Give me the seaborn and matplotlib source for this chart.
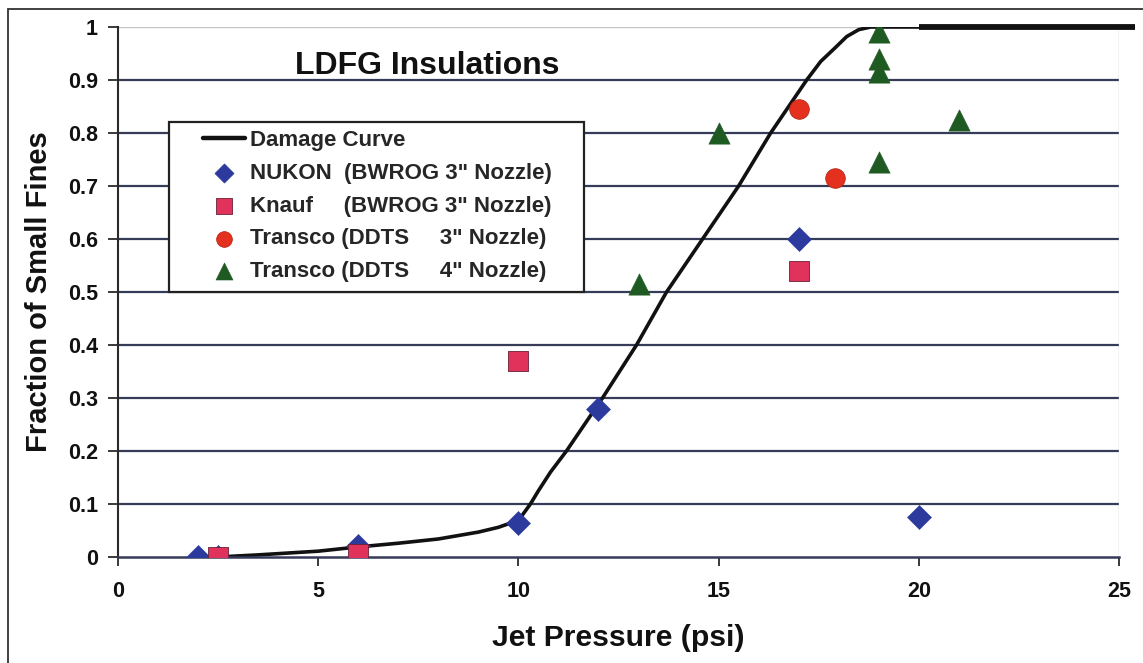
import numpy as np
import pandas as pd
import matplotlib.pyplot as plt
import seaborn as sns
from matplotlib.patches import Rectangle
from matplotlib.lines import Line2D

# ---------------------------------------------------------
# Data
# ---------------------------------------------------------
curve_x = [2.5, 3.5, 5, 6, 7, 8, 9, 9.5, 9.8, 10.05, 10.3, 10.5, 10.8, 11.2,
           12.1, 12.95, 13.7, 14.6, 15.5, 16.3, 17.2, 17.55, 17.9, 18.2, 18.5,
           18.8, 20]
curve_y = [0.0, 0.004, 0.011, 0.019, 0.026, 0.034, 0.047, 0.056, 0.064, 0.074,
           0.1, 0.125, 0.16, 0.2, 0.3, 0.4, 0.5, 0.6, 0.7, 0.8, 0.9, 0.935,
           0.96, 0.982, 0.995, 1.0, 1.0]
flat_x = [20, 25.4]
flat_y = [1.0, 1.0]

nukon_x = [2, 2.5, 6, 10, 12, 17, 20]
nukon_y = [0.0, 0.0, 0.02, 0.065, 0.28, 0.60, 0.075]
knauf_x = [2.5, 6, 10, 17]
knauf_y = [0.0, 0.005, 0.37, 0.54]
transco3_x = [17, 17.9]
transco3_y = [0.845, 0.715]
transco4_x = [13, 15, 19, 19, 19, 19, 21]
transco4_y = [0.515, 0.80, 0.99, 0.94, 0.915, 0.745, 0.825]

legend_labels = ['Damage Curve',
                 'NUKON  (BWROG 3" Nozzle)',
                 'Knauf     (BWROG 3" Nozzle)',
                 'Transco (DDTS     3" Nozzle)',
                 'Transco (DDTS     4" Nozzle)']

x_ticks = [0, 5, 10, 15, 20, 25]
y_ticks = [0, 0.1, 0.2, 0.3, 0.4, 0.5, 0.6, 0.7, 0.8, 0.9, 1.0]
y_tick_labels = ['0', '0.1', '0.2', '0.3', '0.4', '0.5', '0.6', '0.7', '0.8', '0.9', '1']

# ---------------------------------------------------------
# Style
# ---------------------------------------------------------
sns.set_theme(style='white')
plt.rcParams['font.family'] = ['Liberation Sans', 'DejaVu Sans']
plt.rcParams['font.weight'] = 'bold'

grid_col = '#363b58'
blue = '#2b3a9c'
pink = '#e0325a'
red = '#e4301e'
green = '#1f5a22'

fig = plt.figure(figsize=(11.43, 6.63), dpi=100)
ax = fig.add_axes([118 / 1143, 1 - 557 / 663, 1001 / 1143, 530 / 663])

# horizontal grid lines (dark), top one light
for yv in y_ticks[1:-1]:
    ax.axhline(yv, color=grid_col, lw=1.6, zorder=1)
ax.axhline(y_ticks[-1], color='#c4c4c4', lw=1.0, zorder=1)

# damage curve
sns.lineplot(x=curve_x, y=curve_y, ax=ax, color='#111111', lw=2.6,
             sort=False, estimator=None, zorder=2)
ax.plot(flat_x, flat_y, color='#111111', lw=4.2, clip_on=False, zorder=2,
        solid_capstyle='butt')

# measured points
sns.scatterplot(x=nukon_x, y=nukon_y, ax=ax, marker='D', s=150, color=blue,
                edgecolor=blue, linewidth=0.4, zorder=3)
sns.scatterplot(x=knauf_x, y=knauf_y, ax=ax, marker='s', s=195, color=pink,
                edgecolor='#6a2035', linewidth=0.6, zorder=3)
sns.scatterplot(x=transco3_x, y=transco3_y, ax=ax, marker='o', s=200, color=red,
                edgecolor='#b02010', linewidth=0.5, zorder=3)
sns.scatterplot(x=transco4_x, y=transco4_y, ax=ax, marker='^', s=235, color=green,
                edgecolor=green, linewidth=0.4, zorder=3)

ax.set_xlim(0, 25)
ax.set_ylim(0, 1)
ax.set_xticks(x_ticks)
ax.set_yticks(y_ticks)
ax.set_yticklabels(y_tick_labels)

for side in ['top', 'right']:
    ax.spines[side].set_visible(False)
ax.spines['left'].set_color('#2a2a2a')
ax.spines['left'].set_linewidth(1.5)
ax.spines['bottom'].set_color(grid_col)
ax.spines['bottom'].set_linewidth(1.8)
ax.axvline(25, color='#c4c4c4', lw=1.0, zorder=1)

ax.tick_params(axis='y', direction='out', length=7.5, width=1.3, color='#2a2a2a',
               pad=7, labelsize=15.5, left=True)
ax.tick_params(axis='x', direction='out', length=6.5, width=1.3, color='#2a2a2a',
               pad=11, labelsize=15.5, bottom=True)
for lbl in ax.get_xticklabels() + ax.get_yticklabels():
    lbl.set_fontweight('bold')
    lbl.set_color('#111111')

ax.set_xlabel('Jet Pressure (psi)', fontsize=21.7, fontweight='bold', color='#111111')
ax.set_ylabel('Fraction of Small Fines', fontsize=21, fontweight='bold', color='#111111')
ax.xaxis.set_label_coords(0.5, (557 - 624) / 530)
ax.yaxis.set_label_coords((53 - 118) / 1001, 0.5)

ax.text(4.42, 0.927, 'LDFG Insulations', fontsize=23, fontweight='bold',
        color='#111111', ha='left', va='center', zorder=6)

# legend box drawn by hand, entries on top
ax.add_patch(Rectangle(((169 - 118) / 1001, (557 - 292) / 530), 415 / 1001, 170 / 530,
                       transform=ax.transAxes, facecolor='white', edgecolor='#222222',
                       lw=1.6, zorder=4))
handles = [Line2D([], [], color='#111111', lw=3.2)]
handles += ax.collections[:4]
leg = ax.legend(handles, legend_labels, loc='upper left',
                bbox_to_anchor=((203 - 118) / 1001, (557 - 130) / 530),
                frameon=False, borderpad=0, borderaxespad=0, handlelength=1.9,
                handletextpad=0.2, labelspacing=0.53, markerscale=0.8,
                prop={'size': 16, 'weight': 'bold'})
leg.set_zorder(5)

# outer frame of the original figure
fig.patches.append(Rectangle((8 / 1143, -0.05), 1.2, 1 - 9 / 663 + 0.05,
                             transform=fig.transFigure, fill=False,
                             edgecolor='#333333', lw=1.3))

fig.savefig('out.png', dpi=100)
